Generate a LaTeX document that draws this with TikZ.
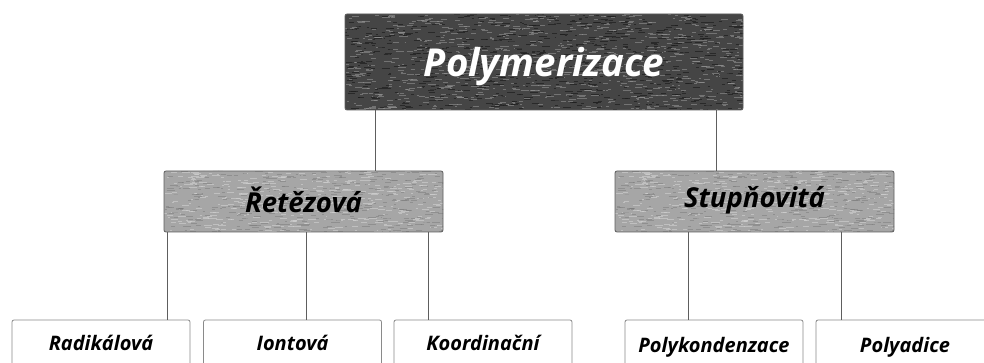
\documentclass[tikz,border=0pt]{standalone}
\usepackage{fontspec}
\setmainfont{Open Sans}
\usetikzlibrary{calc}
\definecolor{topbase}{HTML}{454545}
\definecolor{toplight}{HTML}{9A9A9A}
\definecolor{topdark}{HTML}{1E1E1E}
\definecolor{midbase}{HTML}{A6A6A6}
\definecolor{midlight}{HTML}{D2D2D2}
\definecolor{middark}{HTML}{7A7A7A}
\definecolor{linegray}{HTML}{5E5E5E}
\definecolor{leafborder}{HTML}{8A8A8A}
\newcommand\myspeckle[5]{% count, half width, half height, colour, opacity
  \foreach \i in {1,...,#1}{%
    \pgfmathsetmacro\rx{rand*#2}%
    \pgfmathsetmacro\ry{rand*#3}%
    \pgfmathsetmacro\rl{1.5+7*rnd}%
    \draw[line width=0.9pt, #4, opacity=#5]
      ([shift={(\rx pt,\ry pt)}]path picture bounding box.center) -- ++(\rl pt,0);
  }}
\tikzset{
  rootbox/.style={draw=linegray, line width=0.8pt, fill=topbase, rounded corners=2pt,
    minimum width=398pt, inner xsep=0pt, inner ysep=0pt, text height=63pt, text depth=33pt,
    anchor=base, text=white, font=\fontsize{38.5}{44}\selectfont\bfseries\itshape,
    path picture={\pgfmathsetseed{11}\myspeckle{900}{200}{48}{toplight}{0.55}\myspeckle{700}{200}{48}{topdark}{0.7}}},
  midbox/.style={draw=linegray, line width=0.8pt, fill=midbase, rounded corners=2pt,
    minimum width=279pt, inner xsep=0pt, inner ysep=0pt,
    anchor=base, text=black, font=\fontsize{27.5}{32}\selectfont\bfseries\itshape,
    path picture={\pgfmathsetseed{7}\myspeckle{450}{140}{31}{midlight}{0.6}\myspeckle{350}{140}{31}{middark}{0.5}}},
  leafbox/.style={draw=leafborder, line width=0.8pt, fill=white, rounded corners=2pt,
    minimum width=178pt, inner xsep=0pt, inner ysep=0pt, text depth=40pt,
    anchor=base, text=black, font=\fontsize{20}{24}\selectfont\bfseries\itshape},
  conn/.style={draw=linegray, line width=0.8pt}
}
\begin{document}
\begin{tikzpicture}[x=1pt,y=-1pt]
\useasboundingbox (0,0) rectangle (984,363);
\clip (0,0) rectangle (984,363);
\fill[white] (0,0) rectangle (984,363);

\node[rootbox] (root) at (544,77) {Polymerizace};
\node[midbox, text height=42pt, text depth=19pt] (ret) at (303.5,213) {Řetězová};
\node[midbox, text height=37pt, text depth=24pt] (stu) at (754.5,208) {Stupňovitá};

\node[leafbox, text height=30pt] (rad) at (101,350) {Radikálová};
\node[leafbox, text height=30pt] (ion) at (292.5,350) {Iontová};
\node[leafbox, text height=30pt] (koo) at (483,350) {Koordinační};
\node[leafbox, text height=32pt] (pk) at (714,352) {Polykondenzace};
\node[leafbox, text height=32pt] (pa) at (905,352) {Polyadice};

\coordinate (x1) at (375.5,0);
\coordinate (x2) at (716,0);
\coordinate (x3) at (167,0);
\coordinate (x4) at (306,0);
\coordinate (x5) at (428,0);
\coordinate (x6) at (688,0);
\coordinate (x7) at (841,0);

\draw[conn] (root.south -| x1) -- (ret.north -| x1);
\draw[conn] (root.south -| x2) -- (stu.north -| x2);
\draw[conn] (ret.south -| x3) -- (rad.north -| x3);
\draw[conn] (ret.south -| x4) -- (ion.north -| x4);
\draw[conn] (ret.south -| x5) -- (koo.north -| x5);
\draw[conn] (stu.south -| x6) -- (pk.north -| x6);
\draw[conn] (stu.south -| x7) -- (pa.north -| x7);
\end{tikzpicture}
\end{document}
